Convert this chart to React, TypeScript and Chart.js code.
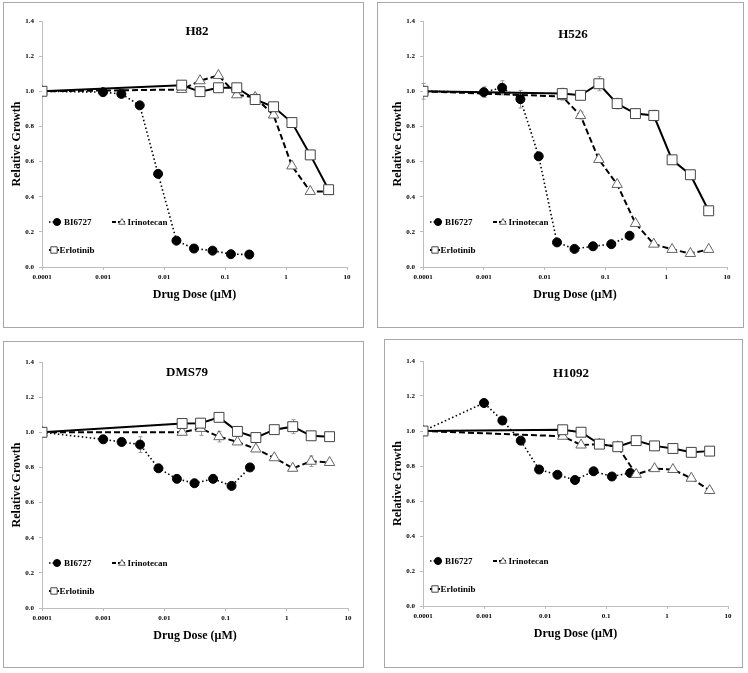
import React, { useEffect, useRef } from 'react';
import { Chart, registerables } from 'chart.js';
Chart.register(...registerables);

// ---------- data ----------
const X_TICKS = [0.0001, 0.001, 0.01, 0.1, 1, 10];
const X_TICK_LABELS = ['0.0001', '0.001', '0.01', '0.1', '1', '10'];
const Y_MIN = 0;
const Y_MAX = 1.4;
const Y_STEP = 0.2;

const SERIES_NAMES = ['BI6727', 'Irinotecan', 'Erlotinib'];
const PANEL_TITLES = ['H82', 'H526', 'DMS79', 'H1092'];
const X_TITLE = 'Drug Dose (\u03BCM)';
const Y_TITLE = 'Relative Growth';

const DOSE_BI = [0.0001, 0.001, 0.002, 0.004, 0.008, 0.016, 0.031, 0.0625, 0.125, 0.25];
const DOSE_OTHER = [0.0001, 0.0195, 0.039, 0.078, 0.156, 0.3125, 0.625, 1.25, 2.5, 5];

const H82_BI = [1.0, 0.995, 0.985, 0.92, 0.53, 0.15, 0.105, 0.093, 0.073, 0.071];
const H82_IRI = [1.0, 1.01, 1.06, 1.09, 0.98, 0.965, 0.865, 0.575, 0.43, 0.43];
const H82_ERL = [1.0, 1.035, 0.998, 1.02, 1.02, 0.953, 0.912, 0.822, 0.638, 0.44];
const H82_BI_ERR = [0, 0.01, 0.01, 0.01, 0.01, 0, 0, 0, 0, 0];
const H82_IRI_ERR = [0, 0.01, 0.01, 0.01, 0.01, 0.02, 0.01, 0.01, 0, 0];
const H82_ERL_ERR = [0, 0.01, 0.01, 0.01, 0.01, 0.01, 0.01, 0.01, 0.01, 0.01];

const H526_BI = [1.0, 0.995, 1.02, 0.955, 0.63, 0.14, 0.103, 0.118, 0.13, 0.178];
const H526_IRI = [1.0, 0.97, 0.862, 0.612, 0.47, 0.248, 0.13, 0.1, 0.077, 0.1];
const H526_ERL = [1.0, 0.987, 0.977, 1.043, 0.93, 0.873, 0.862, 0.61, 0.525, 0.32];
const H526_BI_ERR = [0, 0.03, 0.04, 0.05, 0.01, 0.01, 0.01, 0.01, 0.01, 0.01];
const H526_IRI_ERR = [0, 0.02, 0.02, 0.01, 0.01, 0.01, 0.01, 0.01, 0.01, 0.01];
const H526_ERL_ERR = [0.045, 0.03, 0.01, 0.04, 0.03, 0.02, 0.03, 0.01, 0.01, 0.01];

const DMS79_BI = [1.0, 0.96, 0.945, 0.93, 0.795, 0.735, 0.71, 0.735, 0.695, 0.8];
const DMS79_IRI = [1.0, 1.0, 1.022, 0.975, 0.945, 0.905, 0.855, 0.795, 0.835, 0.828];
const DMS79_ERL = [1.0, 1.05, 1.052, 1.085, 1.005, 0.97, 1.015, 1.032, 0.98, 0.975];
const DMS79_BI_ERR = [0, 0.02, 0.015, 0.045, 0.015, 0.01, 0.01, 0.015, 0.02, 0.02];
const DMS79_IRI_ERR = [0, 0.01, 0.04, 0.03, 0.01, 0.01, 0.01, 0.01, 0.03, 0.01];
const DMS79_ERL_ERR = [0, 0.02, 0.02, 0.02, 0.01, 0.01, 0.01, 0.04, 0.01, 0.01];

const H1092_BI = [1.0, 1.16, 1.06, 0.945, 0.78, 0.75, 0.72, 0.77, 0.74, 0.76];
const H1092_IRI = [1.0, 0.97, 0.92, 0.925, 0.91, 0.752, 0.785, 0.78, 0.73, 0.66];
const H1092_ERL = [1.0, 1.007, 0.993, 0.925, 0.91, 0.945, 0.915, 0.9, 0.878, 0.885];
const H1092_BI_ERR = [0, 0.01, 0.01, 0.01, 0.01, 0.01, 0.01, 0.01, 0.01, 0.01];
const H1092_IRI_ERR = [0, 0.01, 0.01, 0.01, 0.01, 0.01, 0.01, 0.01, 0.01, 0.01];
const H1092_ERL_ERR = [0, 0.025, 0.01, 0.01, 0.01, 0.01, 0.01, 0.01, 0.01, 0.01];

const PANEL_VALUES = [
  [H82_BI, H82_IRI, H82_ERL],
  [H526_BI, H526_IRI, H526_ERL],
  [DMS79_BI, DMS79_IRI, DMS79_ERL],
  [H1092_BI, H1092_IRI, H1092_ERL],
];
const PANEL_ERRORS = [
  [H82_BI_ERR, H82_IRI_ERR, H82_ERL_ERR],
  [H526_BI_ERR, H526_IRI_ERR, H526_ERL_ERR],
  [DMS79_BI_ERR, DMS79_IRI_ERR, DMS79_ERL_ERR],
  [H1092_BI_ERR, H1092_IRI_ERR, H1092_ERL_ERR],
];

// ---------- layout (page pixels) ----------
const LAYOUT = [
  { box: { left: 3, top: 2, width: 361, height: 326 }, plot: { l: 42, t: 21, r: 347, b: 267 }, title: { x: 197, y: 32 } },
  { box: { left: 377, top: 2, width: 367, height: 326 }, plot: { l: 423, t: 21, r: 727, b: 267 }, title: { x: 573, y: 35 } },
  { box: { left: 3, top: 341, width: 361, height: 327 }, plot: { l: 42, t: 362, r: 348, b: 608 }, title: { x: 187, y: 373 } },
  { box: { left: 384, top: 339, width: 359, height: 329 }, plot: { l: 423, t: 361, r: 728, b: 606 }, title: { x: 571, y: 374 } },
];

const SERIF = '"Liberation Serif", "Times New Roman", Times, serif';
const AXIS_GRAY = '#bdbdbd';

const STYLES = [
  { dash: [1.5, 2.5], width: 1.6, point: 'circle', radius: 4.5, fill: '#000', stroke: '#000', pbw: 1 },
  { dash: [6, 3], width: 2, point: 'triangle', radius: 6, fill: '#fff', stroke: '#666', pbw: 1 },
  { dash: [], width: 2, point: 'rect', radius: 7, fill: '#fff', stroke: '#444', pbw: 1 },
];

function drawMarker(ctx: CanvasRenderingContext2D, style: string, x: number, y: number, r: number, fill: string, stroke: string) {
  ctx.save();
  ctx.setLineDash([]);
  ctx.fillStyle = fill;
  ctx.strokeStyle = stroke;
  ctx.lineWidth = 1;
  ctx.beginPath();
  if (style === 'circle') {
    ctx.arc(x, y, r, 0, Math.PI * 2);
  } else if (style === 'rect') {
    ctx.rect(x - r, y - r, 2 * r, 2 * r);
  } else {
    ctx.moveTo(x, y - r);
    ctx.lineTo(x + r * 0.95, y + r * 0.65);
    ctx.lineTo(x - r * 0.95, y + r * 0.65);
    ctx.closePath();
  }
  ctx.fill();
  ctx.stroke();
  ctx.restore();
}

function Panel({ idx }: { idx: number }) {
  const ref = useRef<HTMLCanvasElement | null>(null);
  const L = LAYOUT[idx];
  const cl = L.box.left + 1;
  const ct = L.box.top + 1;
  const cw = L.box.width - 2;
  const ch = L.box.height - 2;

  useEffect(() => {
    const canvas = ref.current;
    if (!canvas) return;
    const values = PANEL_VALUES[idx];
    const errors = PANEL_ERRORS[idx];
    const datasets = [2, 1, 0].map((s) => {
      const doses = s === 0 ? DOSE_BI : DOSE_OTHER;
      const st = STYLES[s];
      return {
        label: SERIES_NAMES[s],
        data: doses.map((x, i) => ({ x, y: values[s][i] })),
        errors: errors[s],
        borderColor: '#000',
        borderWidth: st.width,
        borderDash: st.dash,
        pointStyle: st.point,
        pointRadius: st.radius,
        pointBackgroundColor: st.fill,
        pointBorderColor: st.stroke,
        pointBorderWidth: st.pbw,
        fill: false,
        tension: 0,
      };
    });

    const overlay = {
      id: 'overlay' + idx,
      beforeDatasetsDraw(chart: any) {
        const ctx = chart.ctx;
        const xs = chart.scales.x;
        const ys = chart.scales.y;
        ctx.save();
        ctx.strokeStyle = '#9a9a9a';
        ctx.lineWidth = 1;
        chart.data.datasets.forEach((ds: any) => {
          ds.data.forEach((p: any, i: number) => {
            const e = ds.errors[i];
            if (!e) return;
            const px = Math.round(xs.getPixelForValue(p.x)) + 0.5;
            const y1 = ys.getPixelForValue(p.y + e);
            const y2 = ys.getPixelForValue(p.y - e);
            ctx.beginPath();
            ctx.moveTo(px, y1);
            ctx.lineTo(px, y2);
            ctx.moveTo(px - 2, y1);
            ctx.lineTo(px + 2, y1);
            ctx.moveTo(px - 2, y2);
            ctx.lineTo(px + 2, y2);
            ctx.stroke();
          });
        });
        ctx.restore();
      },
      afterDraw(chart: any) {
        const ctx = chart.ctx;
        const area = chart.chartArea;
        ctx.save();
        ctx.fillStyle = '#000';
        // panel title
        ctx.font = `bold 13px ${SERIF}`;
        ctx.textAlign = 'center';
        ctx.textBaseline = 'middle';
        ctx.fillText(PANEL_TITLES[idx], L.title.x - cl, L.title.y - ct);
        // axis titles
        ctx.font = `bold 12px ${SERIF}`;
        ctx.fillText(X_TITLE, (area.left + area.right) / 2, area.bottom + 28);
        ctx.save();
        ctx.translate(area.left - 25, (area.top + area.bottom) / 2);
        ctx.rotate(-Math.PI / 2);
        ctx.fillText(Y_TITLE, 0, 0);
        ctx.restore();
        // legend
        const items = [
          { s: 0, x: area.left + 7, y: area.bottom - 45, len: 12, mx: 8, tx: 15 },
          { s: 1, x: area.left + 70, y: area.bottom - 45, len: 13, mx: 10, tx: 15.5 },
          { s: 2, x: area.left + 7, y: area.bottom - 17, len: 10, mx: 5, tx: 10.5 },
        ];
        ctx.font = `bold 9px ${SERIF}`;
        ctx.textAlign = 'left';
        items.forEach((it) => {
          const st = STYLES[it.s];
          ctx.save();
          ctx.strokeStyle = '#000';
          ctx.lineWidth = st.width;
          ctx.setLineDash(it.s === 0 ? [1.5, 2] : it.s === 1 ? [4, 2] : []);
          ctx.beginPath();
          ctx.moveTo(it.x, it.y);
          ctx.lineTo(it.x + it.len, it.y);
          ctx.stroke();
          ctx.restore();
          const r = it.s === 0 ? 3.5 : it.s === 1 ? 3.5 : 3.2;
          drawMarker(ctx, st.point, it.x + it.mx, it.y, r, st.fill, st.stroke);
          ctx.fillStyle = '#000';
          ctx.fillText(SERIES_NAMES[it.s], it.x + it.tx, it.y + 0.5);
        });
        ctx.restore();
      },
    };

    const chart = new Chart(canvas, {
      type: 'line',
      data: { datasets: datasets as any },
      options: {
        animation: false,
        responsive: false,
        maintainAspectRatio: false,
        layout: {
          padding: {
            left: 0,
            top: L.plot.t - ct,
            right: cw - (L.plot.r - cl),
            bottom: 0,
          },
        },
        plugins: {
          legend: { display: false },
          tooltip: { enabled: false },
          title: { display: false },
        },
        scales: {
          x: {
            type: 'logarithmic',
            min: X_TICKS[0],
            max: X_TICKS[X_TICKS.length - 1],
            afterBuildTicks: (axis: any) => {
              axis.ticks = X_TICKS.map((v) => ({ value: v }));
            },
            afterFit: (axis: any) => {
              axis.height = ch - (L.plot.b - ct);
            },
            ticks: {
              autoSkip: false,
              maxRotation: 0,
              padding: 3,
              color: '#000',
              font: { family: SERIF, size: 7, weight: 'bold' },
              callback: (_v: any, i: number) => X_TICK_LABELS[i],
            },
            grid: { display: true, drawOnChartArea: false, drawTicks: true, tickLength: 3, color: AXIS_GRAY },
            border: { display: true, color: AXIS_GRAY, width: 1 },
          },
          y: {
            type: 'linear',
            min: Y_MIN,
            max: Y_MAX,
            afterFit: (axis: any) => {
              axis.width = L.plot.l - cl;
            },
            ticks: {
              stepSize: Y_STEP,
              padding: 5,
              color: '#000',
              font: { family: SERIF, size: 7, weight: 'bold' },
              callback: (v: any) => Number(v).toFixed(1),
            },
            grid: { display: true, drawOnChartArea: false, drawTicks: true, tickLength: 3, color: AXIS_GRAY },
            border: { display: true, color: AXIS_GRAY, width: 1 },
          },
        },
      } as any,
      plugins: [overlay],
    });
    return () => chart.destroy();
  }, [idx]);

  return (
    <div
      style={{
        position: 'absolute',
        left: L.box.left,
        top: L.box.top,
        width: L.box.width,
        height: L.box.height,
        boxSizing: 'border-box',
        border: '1px solid #a8a8a8',
        background: '#fff',
      }}
    >
      <canvas ref={ref} width={cw} height={ch} style={{ display: 'block', width: cw, height: ch }} />
    </div>
  );
}

export default function App() {
  return (
    <div style={{ position: 'absolute', left: 0, top: 0, width: 748, height: 673, background: '#fff', overflow: 'hidden' }}>
      {LAYOUT.map((_, i) => (
        <Panel key={i} idx={i} />
      ))}
    </div>
  );
}
